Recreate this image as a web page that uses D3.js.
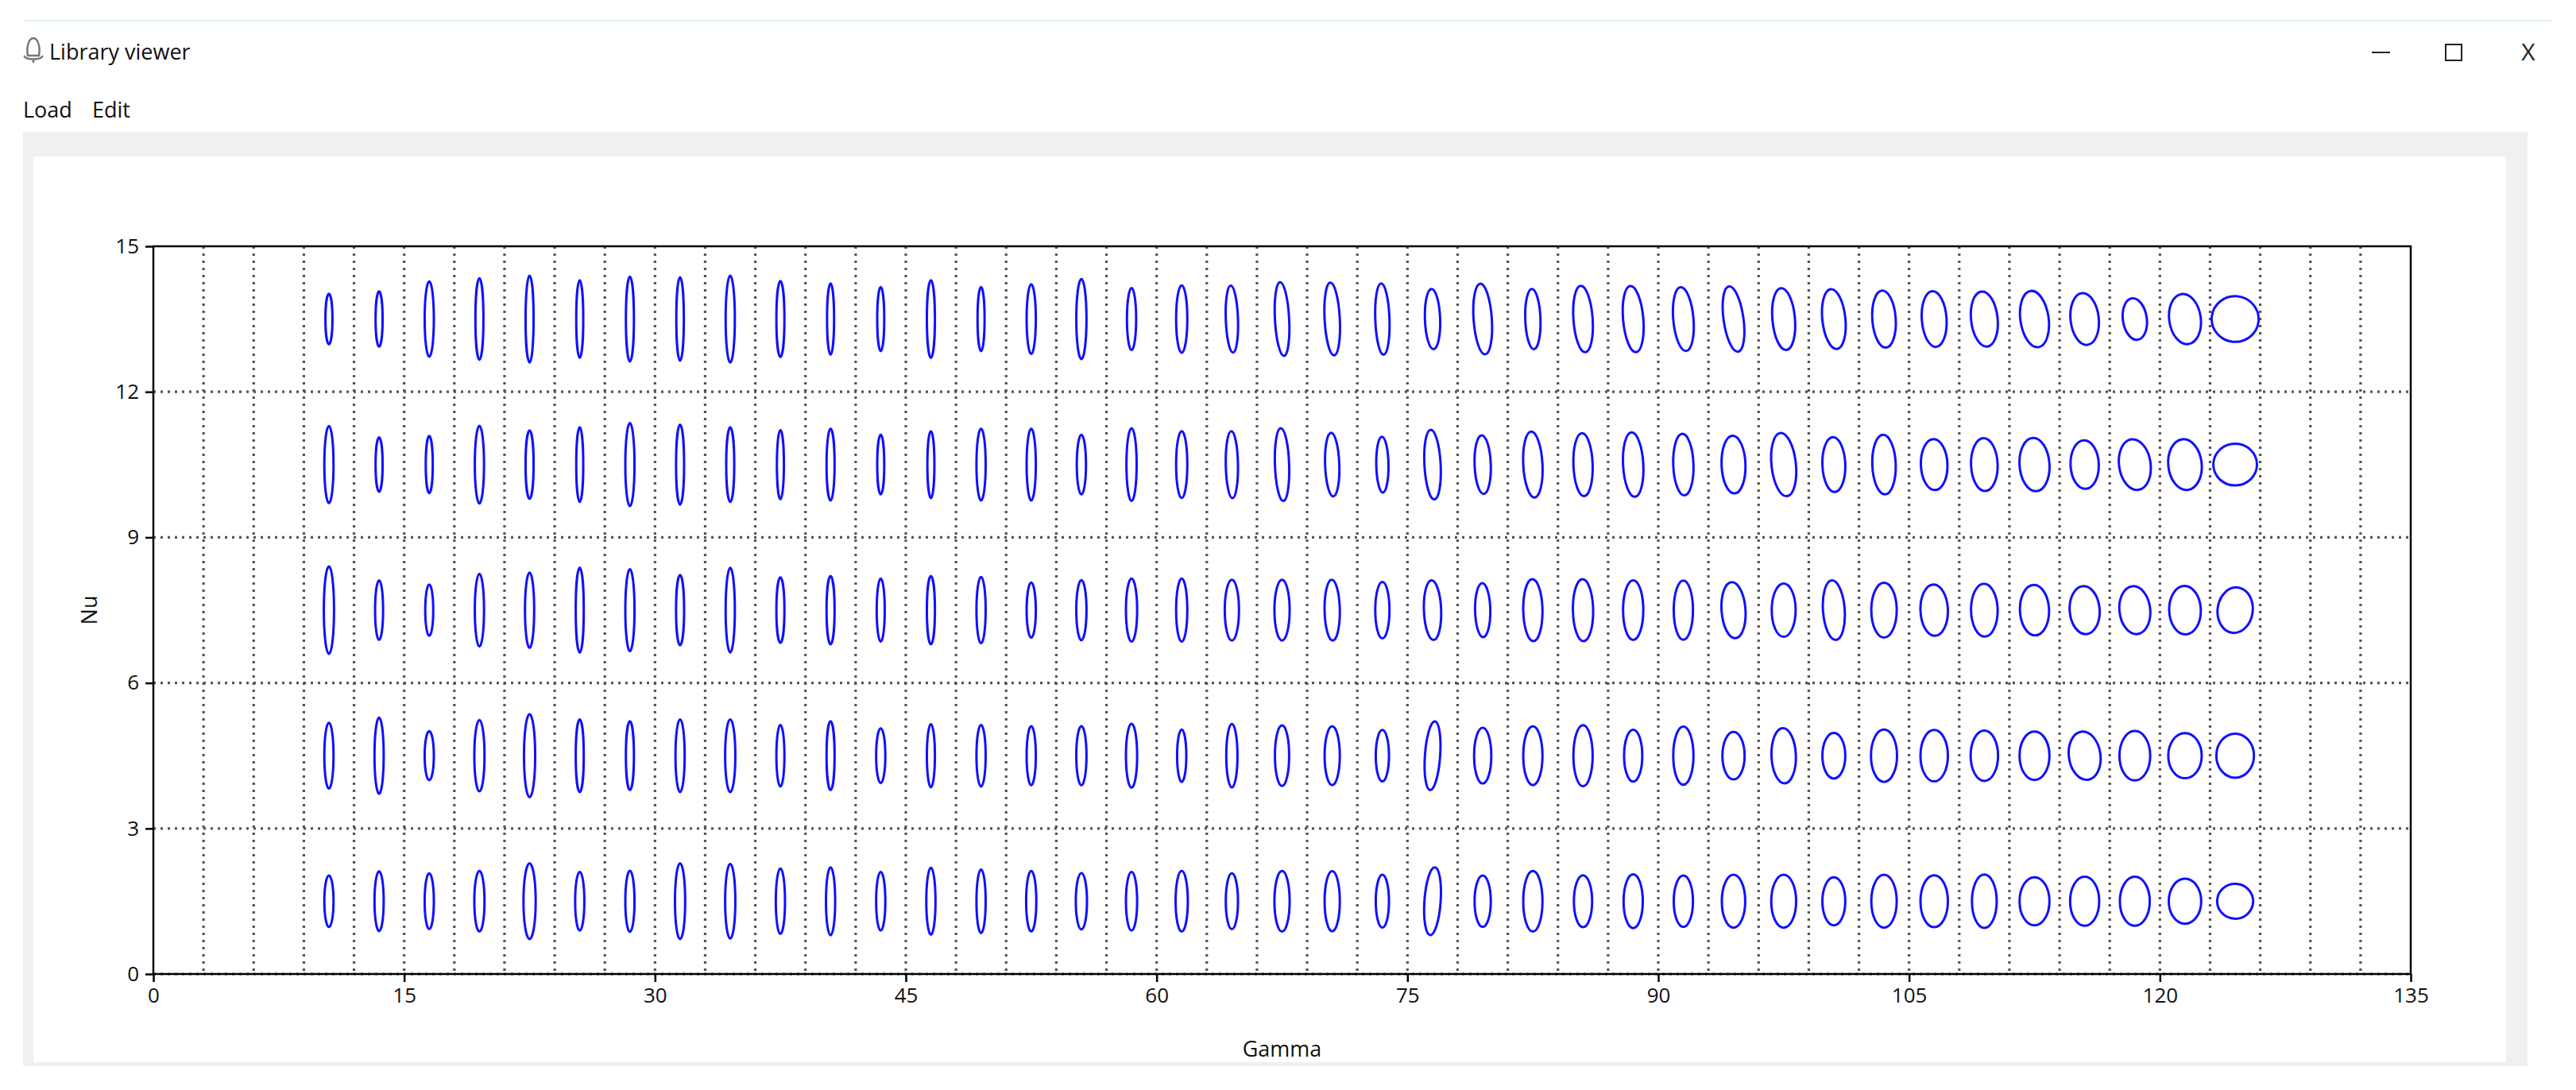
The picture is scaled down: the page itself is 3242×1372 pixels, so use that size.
<!DOCTYPE html>
<html><head><meta charset="utf-8">
<script src="https://cdn.jsdelivr.net/npm/d3@7"></script>
<style>body{margin:0;background:#fff;}svg{display:block;font-family:"Open Sans","DejaVu Sans",sans-serif;}</style>
</head><body>
<script>
const gammaCenters = [10.5,13.5,16.5,19.5,22.5,25.5,28.5,31.5,34.5,37.5,40.5,43.5,46.5,49.5,52.5,55.5,58.5,61.5,64.5,67.5,70.5,73.5,76.5,79.5,82.5,85.5,88.5,91.5,94.5,97.5,100.5,103.5,106.5,109.5,112.5,115.5,118.5,121.5,124.5];
const nuCenters = [13.5,10.5,7.5,4.5,1.5];
const xTicks = [0,15,30,45,60,75,90,105,120,135];
const yTicks = [0,3,6,9,12,15];
// ellipse widths (gamma units), heights (nu units), tilt (degrees) per row
const w135 = [0.42,0.42,0.55,0.48,0.48,0.42,0.48,0.45,0.55,0.48,0.42,0.42,0.48,0.42,0.55,0.61,0.55,0.67,0.73,0.85,0.91,0.85,0.91,1.09,0.91,1.15,1.21,1.21,1.19,1.35,1.38,1.4,1.48,1.59,1.69,1.69,1.43,1.89,2.81];
const h135 = [1.04,1.14,1.55,1.68,1.79,1.6,1.75,1.72,1.79,1.57,1.47,1.32,1.6,1.32,1.44,1.65,1.28,1.39,1.38,1.52,1.5,1.47,1.24,1.46,1.24,1.37,1.37,1.32,1.36,1.28,1.24,1.18,1.15,1.14,1.17,1.07,0.86,1.04,0.94];
const a135 = [0,0,0,0,0,0,0,0,0,0,0,0,0,0,0,0,0,0,-2,-3,-3,-2,-2,-4,-2,-4,-5,-5,-8,-5,-6,-4,-4,-6,-8,-6,-8,-8,6];
const w105 = [0.55,0.42,0.42,0.55,0.48,0.42,0.55,0.48,0.48,0.42,0.48,0.42,0.42,0.55,0.55,0.55,0.61,0.67,0.73,0.85,0.85,0.73,0.97,0.97,1.15,1.15,1.21,1.21,1.43,1.46,1.37,1.4,1.59,1.59,1.79,1.69,1.89,2.0,2.61];
const h105 = [1.59,1.12,1.18,1.6,1.41,1.54,1.71,1.65,1.54,1.43,1.48,1.23,1.38,1.48,1.48,1.23,1.5,1.38,1.38,1.5,1.31,1.15,1.44,1.21,1.36,1.3,1.33,1.27,1.19,1.31,1.13,1.23,1.05,1.09,1.1,1.0,1.05,1.05,0.86];
const a105 = [0,0,0,0,0,0,0,0,0,0,0,0,0,0,0,0,0,0,-1,-2,-2,-1,-3,-2,-3,-2,-3,-2,-2,-6,-2,-2,-2,-2,-4,-2,-8,-6,0];
const w75 = [0.61,0.48,0.48,0.55,0.55,0.48,0.55,0.48,0.55,0.48,0.48,0.48,0.48,0.55,0.55,0.61,0.67,0.67,0.85,0.91,0.91,0.85,1.03,0.91,1.15,1.21,1.21,1.15,1.43,1.43,1.3,1.52,1.64,1.59,1.74,1.79,1.84,1.89,2.1];
const h75 = [1.8,1.23,1.06,1.5,1.55,1.75,1.69,1.45,1.74,1.35,1.41,1.3,1.41,1.37,1.14,1.24,1.3,1.3,1.25,1.25,1.25,1.16,1.23,1.11,1.28,1.28,1.23,1.22,1.16,1.1,1.23,1.13,1.06,1.09,1.04,0.99,0.99,1.0,0.94];
const a75 = [0,0,0,0,0,0,0,0,0,0,0,0,0,0,0,0,0,0,0,0,-1,0,-2,-1,-1,-1,0,0,-4,0,-4,0,-2,-1,-2,-4,-6,-2,7];
const w45 = [0.55,0.55,0.55,0.61,0.67,0.48,0.48,0.55,0.61,0.48,0.48,0.55,0.48,0.55,0.55,0.61,0.67,0.55,0.67,0.85,0.91,0.79,0.91,1.03,1.15,1.15,1.09,1.21,1.33,1.46,1.37,1.56,1.64,1.64,1.79,1.89,1.84,2.0,2.25];
const h45 = [1.36,1.57,1.01,1.47,1.71,1.5,1.42,1.5,1.5,1.27,1.42,1.13,1.3,1.27,1.22,1.22,1.32,1.08,1.31,1.25,1.21,1.06,1.42,1.15,1.21,1.26,1.07,1.2,0.98,1.14,0.94,1.08,1.06,1.04,1.0,1.0,1.02,0.93,0.91];
const a45 = [0,0,0,0,0,0,0,0,0,0,0,0,0,0,0,0,0,0,0,0,0,0,4,0,0,0,0,0,0,-2,0,0,0,0,0,-8,0,0,0];
const w15 = [0.55,0.55,0.55,0.61,0.73,0.55,0.55,0.61,0.61,0.55,0.55,0.55,0.55,0.55,0.61,0.67,0.67,0.73,0.73,0.91,0.91,0.79,0.97,0.97,1.15,1.09,1.15,1.15,1.4,1.49,1.37,1.52,1.64,1.48,1.79,1.74,1.79,1.94,2.15];
const h15 = [1.06,1.23,1.15,1.25,1.56,1.21,1.26,1.56,1.54,1.35,1.4,1.21,1.38,1.31,1.25,1.16,1.21,1.25,1.15,1.25,1.24,1.09,1.4,1.06,1.25,1.07,1.11,1.06,1.09,1.09,0.99,1.09,1.07,1.1,0.99,1.01,1.01,0.93,0.72];
const a15 = [0,0,0,0,0,0,0,0,0,0,0,0,0,0,0,0,0,0,0,0,0,0,4,0,0,0,0,0,0,0,0,0,0,0,0,0,0,0,4];

const rows = [[w135,h135,a135],[w105,h105,a105],[w75,h75,a75],[w45,h45,a45],[w15,h15,a15]];
const W=3242,H=1372;
const svg=d3.select("body").append("svg").attr("width",W).attr("height",H);
svg.append("rect").attr("width",W).attr("height",H).attr("fill","#fff");
svg.append("line").attr("x1",29).attr("x2",3213).attr("y1",26).attr("y2",26).attr("stroke","#dff0f6").attr("stroke-width",2);
const ic=svg.append("g").attr("transform","translate(42,62)").attr("fill","none").attr("stroke","#777").attr("stroke-width",2.5);
ic.append("path").attr("d","M-7,8 C-9,-2 -6,-14 0,-14 C6,-14 9,-2 7,8 Z");
ic.append("path").attr("d","M-11,8 C-13,14 13,14 11,8 M0,12 L0,17");
svg.append("text").attr("x",62).attr("y",75).attr("font-size",27).attr("fill","#111").text("Library viewer");
svg.append("text").attr("x",29).attr("y",148).attr("font-size",27).attr("fill","#111").text("Load");
svg.append("text").attr("x",116).attr("y",148).attr("font-size",27).attr("fill","#111").text("Edit");
svg.append("line").attr("x1",2985).attr("x2",3008).attr("y1",66).attr("y2",66).attr("stroke","#222").attr("stroke-width",2);
svg.append("rect").attr("x",3078).attr("y",56).attr("width",20).attr("height",20).attr("fill","none").attr("stroke","#222").attr("stroke-width",2);
svg.append("text").attr("x",3182).attr("y",76).attr("font-size",30).attr("text-anchor","middle").attr("fill","#222").text("X");
svg.append("rect").attr("x",29).attr("y",166).attr("width",3152).attr("height",1176).attr("fill","#f0f0f0");
svg.append("rect").attr("x",42).attr("y",197).attr("width",3112).attr("height",1140).attr("fill","#fff");

const m={l:193,r:3034,t:310,b:1226};
const x=d3.scaleLinear().domain([0,135]).range([m.l,m.r]);
const y=d3.scaleLinear().domain([0,15]).range([m.b,m.t]);
const g=svg.append("g");
const gx=d3.range(3,135,3);
g.selectAll(".vg").data(gx).join("line").attr("x1",d=>x(d)).attr("x2",d=>x(d)).attr("y1",m.t).attr("y2",m.b)
 .attr("stroke","#555").attr("stroke-width",3.2).attr("stroke-dasharray","3,6");
g.selectAll(".hg").data([0,3,6,9,12]).join("line").attr("x1",m.l).attr("x2",m.r).attr("y1",d=>y(d)).attr("y2",d=>y(d))
 .attr("stroke","#555").attr("stroke-width",3.2).attr("stroke-dasharray","3,6");
rows.forEach((r,ri)=>{
  const [ws,hs,as]=r;
  g.selectAll(null).data(gammaCenters).join("ellipse")
   .attr("cx",0).attr("cy",0)
   .attr("rx",(d,i)=>(x(ws[i])-x(0))/2).attr("ry",(d,i)=>(y(0)-y(hs[i]))/2)
   .attr("transform",(d,i)=>`translate(${x(d)},${y(nuCenters[ri])}) rotate(${as[i]})`)
   .attr("fill","none").attr("stroke","#1010ff").attr("stroke-width",3);
});
g.append("rect").attr("x",m.l).attr("y",m.t).attr("width",m.r-m.l).attr("height",m.b-m.t).attr("fill","none").attr("stroke","#000").attr("stroke-width",2.5);
const xa=svg.append("g").attr("transform",`translate(0,${m.b})`).call(d3.axisBottom(x).tickValues(xTicks).tickSize(10).tickPadding(8));
const ya=svg.append("g").attr("transform",`translate(${m.l},0)`).call(d3.axisLeft(y).tickValues(yTicks).tickSize(10).tickPadding(8));
[xa,ya].forEach(a=>{a.select(".domain").remove();a.selectAll("line").attr("stroke","#000").attr("stroke-width",2.5);
  a.selectAll("text").attr("font-size",26).attr("fill","#111").attr("font-family","'Open Sans','DejaVu Sans',sans-serif");});
svg.append("text").attr("x",(m.l+m.r)/2).attr("y",1330).attr("text-anchor","middle").attr("font-size",27).attr("fill","#111").text("Gamma");
svg.append("text").attr("transform",`translate(122,${(m.t+m.b)/2}) rotate(-90)`).attr("text-anchor","middle").attr("font-size",27).attr("fill","#111").text("Nu");
</script>
</body></html>
